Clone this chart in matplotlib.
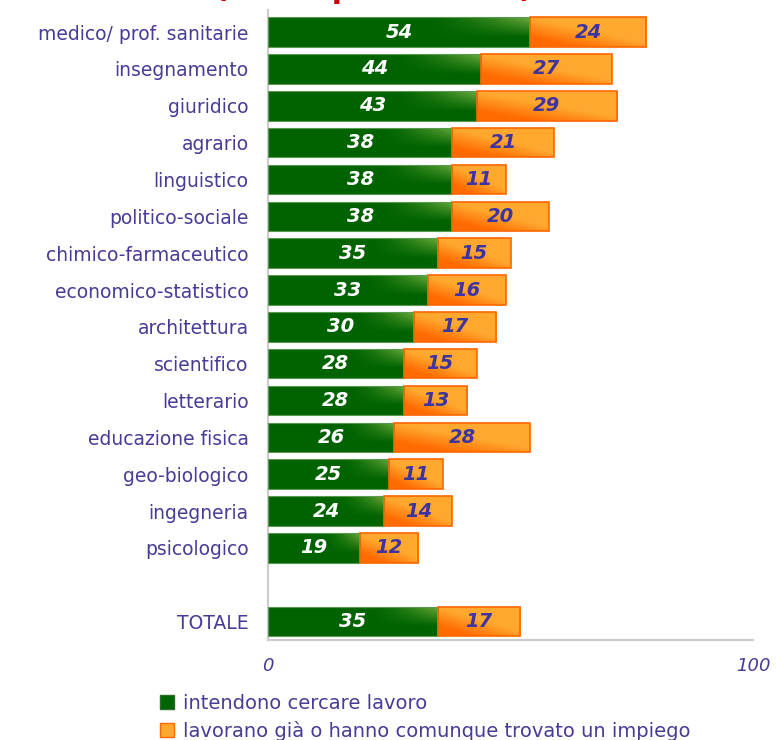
import matplotlib
matplotlib.use("Agg")
import matplotlib.pyplot as plt
from matplotlib.patches import Patch
import numpy as np

# data
categories = ["medico/ prof. sanitarie", "insegnamento", "giuridico", "agrario",
              "linguistico", "politico-sociale", "chimico-farmaceutico",
              "economico-statistico", "architettura", "scientifico", "letterario",
              "educazione fisica", "geo-biologico", "ingegneria", "psicologico",
              "", "TOTALE"]
cercano = [54, 44, 43, 38, 38, 38, 35, 33, 30, 28, 28, 26, 25, 24, 19, None, 35]
lavorano = [24, 27, 29, 21, 11, 20, 15, 16, 17, 15, 13, 28, 11, 14, 12, None, 17]
legend_labels = ["intendono cercare lavoro",
                 "lavorano già o hanno comunque trovato un impiego"]
title = "(valori percentuali)"

txt_col = "#463c96"
green_dark = np.array([0.0, 0.39, 0.0])
green_light = np.array([0.42, 0.67, 0.24])
orange_light = np.array([1.0, 0.66, 0.19])
orange_dark = np.array([1.0, 0.42, 0.0])

fig = plt.figure(figsize=(7.76, 7.4), dpi=100)
ax = fig.add_axes([268/776, 1 - 640/740, 485/776, 630/740])

# gradient images
n = 64
u, v = np.meshgrid(np.linspace(0, 1, n), np.linspace(0, 1, n))
tg = np.clip((u - 0.6) / 0.4, 0, 1) ** 1.5 * np.clip(1 - v * 1.5, 0, 1)
grad_green = green_dark + (green_light - green_dark) * tg[..., None]
to = np.clip((0.5 - u) * 1.3 + (v - 0.45) * 1.6, 0, 1)
grad_orange = orange_light + (orange_dark - orange_light) * to[..., None]

y = np.arange(len(categories))
g = np.array([np.nan if c is None else c for c in cercano], dtype=float)
o = np.array([np.nan if c is None else c for c in lavorano], dtype=float)

h = 0.8
bars_g = ax.barh(y, g, height=h, color="#006400", edgecolor="none", zorder=2)
bars_o = ax.barh(y, o, left=g, height=h, color="#ffa830", edgecolor="none", zorder=2)

for bars, img in ((bars_g, grad_green), (bars_o, grad_orange)):
    for p in bars:
        if not np.isfinite(p.get_width()) or p.get_width() == 0:
            continue
        x0, y0, w, hh = p.get_x(), p.get_y(), p.get_width(), p.get_height()
        im = ax.imshow(img, extent=(x0, x0 + w, y0 + hh, y0), aspect="auto",
                       zorder=2.5, interpolation="bilinear")
        im.set_clip_path(p)

ax.barh(y, g, height=h, fill=False, edgecolor="#5a9a50", lw=0.8, zorder=3)
ax.barh(y, o, left=g, height=h, fill=False, edgecolor="#ff6600", lw=1.2, zorder=3)

for i in range(len(categories)):
    if np.isnan(g[i]):
        continue
    ax.text(g[i] / 2, y[i], "%d" % g[i], ha="center", va="center", color="white",
            fontsize=14, fontweight="bold", fontstyle="italic", zorder=4)
    ax.text(g[i] + o[i] / 2, y[i], "%d" % o[i], ha="center", va="center",
            color="#3d34a0", fontsize=14, fontweight="bold", fontstyle="italic",
            zorder=4)

ax.set_xlim(0, 100)
ax.set_ylim(len(categories) - 0.5, -0.6)
ax.set_yticks(y)
ax.set_yticklabels(categories, color=txt_col, fontsize=13.5)
ax.set_xticks([0, 100])
ax.set_xticklabels(["0", "100"], color=txt_col, fontsize=13, fontstyle="italic")
ax.tick_params(axis="both", length=0)
ax.tick_params(axis="y", pad=14)
ax.tick_params(axis="x", pad=12)
for s in ("top", "right"):
    ax.spines[s].set_visible(False)
for s in ("left", "bottom"):
    ax.spines[s].set_color("#cccccc")
    ax.spines[s].set_linewidth(1.5)

# title, cut off at the top edge as in the original
fig.text(374/776, 1 + 1.5/740, title, ha="center", va="baseline", color="#cc0000",
         fontsize=21, fontweight="bold")

handles = [Patch(facecolor="#006400", edgecolor="#2d6b2d"),
           Patch(facecolor="#ffa830", edgecolor="#ff6600")]
fig.legend(handles, legend_labels, loc="upper left",
           bbox_to_anchor=(160/776, 1 - 694/740), frameon=False,
           fontsize=14, labelcolor=txt_col, handlelength=0.7, handleheight=0.7,
           handletextpad=0.5, labelspacing=0.4, borderaxespad=0, borderpad=0)

fig.savefig("out.png", dpi=100)
